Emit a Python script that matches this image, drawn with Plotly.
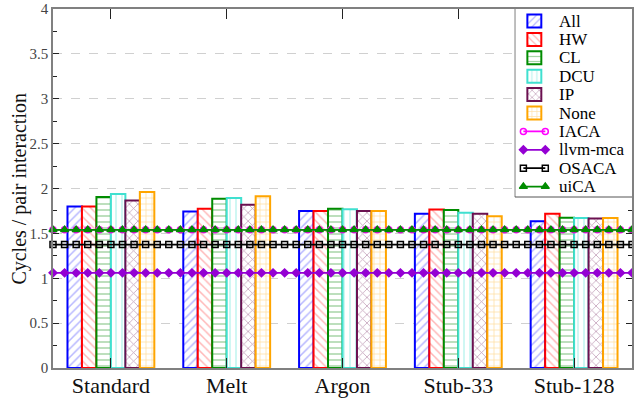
import numpy as np
import plotly.graph_objects as go

categories = ["Standard", "Melt", "Argon", "Stub-33", "Stub-128"]
bar_series = ["All", "HW", "CL", "DCU", "IP", "None"]
bar_values = {
    "All":  [1.80, 1.745, 1.75, 1.72, 1.635],
    "HW":   [1.80, 1.775, 1.75, 1.765, 1.72],
    "CL":   [1.905, 1.885, 1.775, 1.76, 1.675],
    "DCU":  [1.94, 1.895, 1.77, 1.73, 1.67],
    "IP":   [1.865, 1.82, 1.75, 1.72, 1.665],
    "None": [1.96, 1.915, 1.75, 1.69, 1.67],
}
line_series = ["IACA", "llvm-mca", "OSACA", "uiCA"]
line_values = {"IACA": 1.54, "llvm-mca": 1.06, "OSACA": 1.375, "uiCA": 1.54}
y_ticks = [0, 0.5, 1, 1.5, 2, 2.5, 3, 3.5, 4]
y_ticktext = ["0", "0.5", "1", "1.5", "2", "2.5", "3", "3.5", "4"]

bar_style = {
    "All":  ("#0000ff", "#7070ff", "/"),
    "HW":   ("#ff0000", "#ff7070", "\\"),
    "CL":   ("#008c00", "#50ab50", "-"),
    "DCU":  ("#40e0d0", "#80eadf", "|"),
    "IP":   ("#6b1050", "#8a4577", "x"),
    "None": ("#ffa500", "#ffc04d", "+"),
}
line_style = {
    "IACA":     ("#ff00ff", "circle-open", 6),
    "llvm-mca": ("#9400d3", "diamond", 6),
    "OSACA":    ("#000000", "square-open", 6),
    "uiCA":     ("#008c00", "triangle-up", 7),
}

SERIF = "Liberation Serif, DejaVu Serif, serif"
W, H = 634, 398
ML, MR, MT, MB = 53, 0, 9, 30
PW, PH = W - ML - MR, H - MT - MB


def px2paper_x(px):
    return (px - ML) / PW


def px2paper_y(py):
    return (H - MB - py) / PH


xpos = list(range(len(categories)))

fig = go.Figure()
for s in bar_series:
    col, fg, shape = bar_style[s]
    fig.add_trace(go.Bar(
        x=xpos, y=bar_values[s], name=s, showlegend=False,
        marker=dict(color="white",
                    line=dict(color=col, width=2),
                    pattern=dict(shape=shape, fgcolor=fg, bgcolor="white",
                                 size=6, solidity=0.25, fillmode="overlay")),
    ))

marker_x = np.round(np.arange(-0.5, 4.5001, 0.1), 2)
for s in line_series:
    col, sym, sz = line_style[s]
    fig.add_trace(go.Scatter(
        x=marker_x, y=[line_values[s]] * len(marker_x), name=s, showlegend=False,
        mode="lines+markers", cliponaxis=False,
        line=dict(color=col, width=1.8),
        marker=dict(symbol=sym, size=sz, color=col, line=dict(color=col, width=1.5)),
    ))

# ---- legend drawn in an overlay subplot whose coordinates are pixels ----
box_left, box_top, box_bottom = 516, 9, 197
names = bar_series + line_series
item_y = [21 + 18.4 * i for i in range(len(names))]
ly = lambda py: H - py  # pixel row -> overlay y

# legend frame (white box)
fig.add_trace(go.Bar(
    x=[box_left + 0.5], y=[ly(box_top - 3) - ly(box_bottom)], base=[ly(box_bottom)],
    width=[200], offset=0,
    marker=dict(color="white", line=dict(color="#555", width=1)),
    xaxis="x2", yaxis="y2", showlegend=False, hoverinfo="skip"))

sw_x, sw_w, sw_h = 536, 14, 13
fig.add_trace(go.Bar(
    x=[sw_x] * len(bar_series), y=[sw_h] * len(bar_series),
    base=[ly(item_y[i]) - sw_h / 2 for i in range(len(bar_series))],
    width=[sw_w] * len(bar_series), offset=-sw_w / 2,
    marker=dict(color="white",
                line=dict(color=[bar_style[s][0] for s in bar_series], width=2),
                pattern=dict(shape=[bar_style[s][2] for s in bar_series],
                             fgcolor=[bar_style[s][1] for s in bar_series],
                             bgcolor="white", size=5, solidity=0.25, fillmode="overlay")),
    xaxis="x2", yaxis="y2", showlegend=False, hoverinfo="skip"))

for j, s in enumerate(line_series):
    col, sym, sz = line_style[s]
    yy = ly(item_y[len(bar_series) + j])
    fig.add_trace(go.Scatter(
        x=[525, 547], y=[yy, yy], mode="lines+markers",
        line=dict(color=col, width=1.8),
        marker=dict(symbol=sym, size=sz, color=col, line=dict(color=col, width=1.5)),
        xaxis="x2", yaxis="y2", showlegend=False, hoverinfo="skip"))

for name, py in zip(names, item_y):
    fig.add_annotation(text=name, xref="x2", yref="y2", x=559, y=ly(py),
                       xanchor="left", yanchor="middle", showarrow=False,
                       font=dict(family=SERIF, size=17, color="#000"))

# y-axis title placed as rotated text
fig.add_annotation(text="Cycles / pair interaction", xref="paper", yref="paper",
                   x=px2paper_x(19), y=0.5, xanchor="center", yanchor="middle",
                   textangle=-90, showarrow=False,
                   font=dict(family=SERIF, size=20, color="#111"))

fig.update_layout(
    width=W, height=H,
    margin=dict(l=ML, r=MR, t=MT, b=MB),
    paper_bgcolor="white", plot_bgcolor="white",
    barmode="group", bargap=0.25, bargroupgap=0,
    font=dict(family=SERIF, color="#000"),
    showlegend=False,
    xaxis=dict(range=[-0.5, 4.5], tickmode="array", tickvals=xpos, ticktext=categories,
               ticks="inside", ticklen=10, tickcolor="#222", mirror="ticks",
               showline=True, linecolor="#808080", linewidth=1.5,
               showgrid=False, zeroline=False, ticklabelstandoff=-3,
               tickfont=dict(family=SERIF, size=22, color="#111")),
    yaxis=dict(range=[0, 4], tickmode="array", tickvals=y_ticks, ticktext=y_ticktext,
               ticks="inside", ticklen=6, tickcolor="#222", mirror="ticks",
               showline=True, linecolor="#808080", linewidth=1.5,
               minor=dict(dtick=0.25, ticks="inside", ticklen=4, tickcolor="#222", showgrid=False),
               showgrid=True, gridcolor="#d0d0d0", griddash="dash", gridwidth=1.2,
               zeroline=False,
               tickfont=dict(family=SERIF, size=15, color="#444")),
    xaxis2=dict(domain=[px2paper_x(box_left), 1], range=[box_left, W], anchor="y2",
                visible=False, fixedrange=True),
    yaxis2=dict(domain=[px2paper_y(box_bottom + 1), 1], range=[ly(box_bottom + 1), ly(box_top)],
                anchor="x2", visible=False, fixedrange=True),
)

fig.write_html("out.html", config={"displayModeBar": False},
               post_script="document.body.style.margin='0px';document.body.style.overflow='hidden';")
